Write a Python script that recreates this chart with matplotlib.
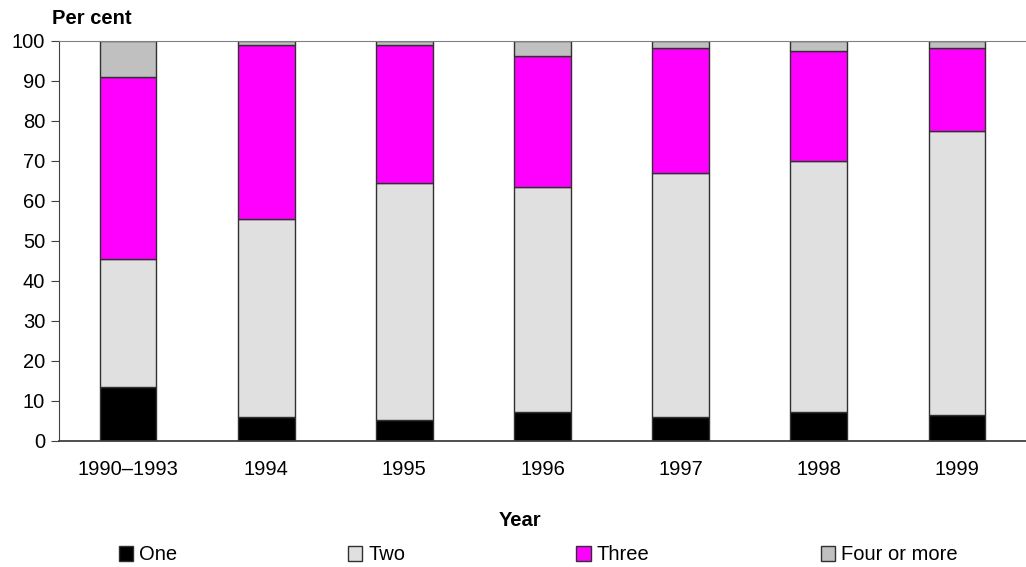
import numpy as np
import matplotlib
matplotlib.use("Agg")
import matplotlib.pyplot as plt

plt.rcParams['font.family'] = ['Liberation Sans', 'DejaVu Sans']

years = ["1990\u20131993", "1994", "1995", "1996", "1997", "1998", "1999"]
one = [13.5, 6.0, 5.1, 7.1, 6.0, 7.1, 6.5]
two = [31.9, 49.4, 59.3, 56.3, 61.0, 62.8, 70.9]
three = [45.6, 43.6, 34.5, 32.9, 31.3, 27.5, 20.9]
four = [9.0, 1.0, 1.1, 3.7, 1.7, 2.6, 1.7]

series = [("One", one, "#000000"),
          ("Two", two, "#e0e0e0"),
          ("Three", three, "#ff00ff"),
          ("Four or more", four, "#c0c0c0")]

fig = plt.figure(figsize=(10.26, 5.67), dpi=100)
ax = fig.add_axes([0.0575, 0.2228, 0.9425, 0.7054])

x = np.arange(len(years))
bottom = np.zeros(len(years))
for name, vals, col in series:
    ax.bar(x, vals, 0.41, bottom=bottom, color=col, edgecolor="#303030",
           linewidth=1.0, label=name)
    bottom += np.array(vals)

ax.set_xlim(-0.5, 6.5)
ax.set_ylim(0, 100)
ax.set_yticks(range(0, 101, 10))
ax.set_xticks(x)
ax.set_xticklabels(years, fontsize=14.5)
ax.tick_params(axis='y', labelsize=14.5, length=6, color="#404040", pad=4)
ax.tick_params(axis='x', length=0, pad=14)

ax.spines["right"].set_visible(False)
ax.spines["top"].set_color("#808080")
ax.spines["left"].set_color("#404040")
ax.spines["bottom"].set_color("#404040")
ax.spines["bottom"].set_linewidth(1.3)

fig.text(52 / 1026, 1 - 18 / 567, "Per cent", fontsize=14.5, fontweight="bold",
         ha="left", va="center")
fig.text(520 / 1026, 1 - 520 / 567, "Year", fontsize=14.5, fontweight="bold",
         ha="center", va="center")

fig.legend(loc="center", bbox_to_anchor=(538 / 1026, 1 - 555 / 567), ncol=4,
           frameon=False, fontsize=14.5, handlelength=0.7, handleheight=0.7,
           handletextpad=0.3, columnspacing=8.5, borderaxespad=0)

fig.savefig("out.png", dpi=100)
